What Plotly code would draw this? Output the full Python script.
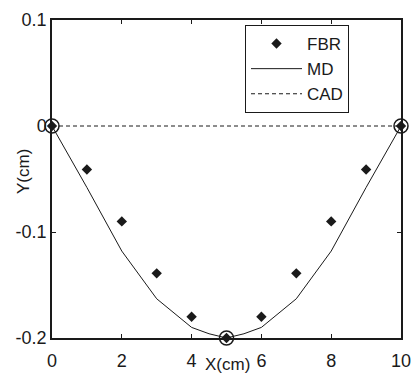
import plotly.graph_objects as go

# Data
fbr_x = [0, 1, 2, 3, 4, 5, 6, 7, 8, 9, 10]
fbr_y = [0, -0.041, -0.090, -0.139, -0.180, -0.200, -0.180, -0.139, -0.090, -0.041, 0]

md_x = [0, 1, 2, 3, 4, 4.5, 5, 5.5, 6, 7, 8, 9, 10]
md_y = [0, -0.058, -0.118, -0.163, -0.190, -0.196, -0.200, -0.196, -0.190, -0.163, -0.118, -0.058, 0]

cad_x = [0, 10]
cad_y = [0, 0]

ring_x = [0, 5, 10]
ring_y = [0, -0.2, 0]

x_ticks = [0, 2, 4, 6, 8, 10]
x_ticklabels = ["0", "2", "4", "6", "8", "10"]
y_ticks = [-0.2, -0.1, 0, 0.1]
y_ticklabels = ["-0.2", "-0.1", "0", "0.1"]

FONT = "Liberation Sans, Arial, sans-serif"
INK = "#1a1a1a"

fig = go.Figure()
fig.add_trace(go.Scatter(x=cad_x, y=cad_y, mode="lines", name="CAD",
                         line=dict(color=INK, width=1, dash="4px,3px"), legendrank=3))
fig.add_trace(go.Scatter(x=md_x, y=md_y, mode="lines", name="MD",
                         line=dict(color=INK, width=1), legendrank=2))
fig.add_trace(go.Scatter(x=fbr_x, y=fbr_y, mode="markers", name="FBR",
                         marker=dict(symbol="diamond", size=8, color=INK), legendrank=1,
                         cliponaxis=False))
fig.add_trace(go.Scatter(x=ring_x, y=ring_y, mode="markers", showlegend=False,
                         marker=dict(symbol="circle-open", size=14, color=INK,
                                     line=dict(width=1.5, color=INK)),
                         cliponaxis=False))

axis_common = dict(showgrid=False, zeroline=False, showline=True, linecolor=INK,
                   linewidth=1.5, mirror="ticks", ticks="inside", ticklen=4,
                   tickcolor=INK, tickwidth=1, automargin=False,
                   tickfont=dict(family=FONT, size=18, color=INK))

fig.update_xaxes(range=[0, 10], tickvals=x_ticks, ticktext=x_ticklabels,
                 ticklabelstandoff=6, **axis_common)
fig.update_yaxes(range=[-0.2, 0.1], tickvals=y_ticks, ticktext=y_ticklabels, **axis_common)

fig.update_layout(
    width=412, height=375,
    margin=dict(l=52, r=11, t=20, b=37),
    paper_bgcolor="white", plot_bgcolor="white",
    showlegend=True,
    legend=dict(x=(245 - 52) / 349, y=(338 - 25) / 318, xanchor="left", yanchor="top",
                bgcolor="white", bordercolor=INK, borderwidth=1,
                font=dict(family=FONT, size=17, color=INK),
                itemwidth=51, tracegroupgap=0),
    annotations=[
        dict(text="X(cm)", xref="paper", yref="paper", x=(227 - 52) / 349,
             y=-(364 - 338) / 318, showarrow=False, xanchor="center", yanchor="middle",
             font=dict(family=FONT, size=17, color=INK)),
        dict(text="Y(cm)", xref="paper", yref="paper", x=-(52 - 23) / 349,
             y=(338 - 172) / 318, showarrow=False, textangle=-90,
             xanchor="center", yanchor="middle",
             font=dict(family=FONT, size=17, color=INK)),
    ],
)

fig.write_html("out.html", config={"displayModeBar": False},
               post_script="document.body.style.margin='0';")
